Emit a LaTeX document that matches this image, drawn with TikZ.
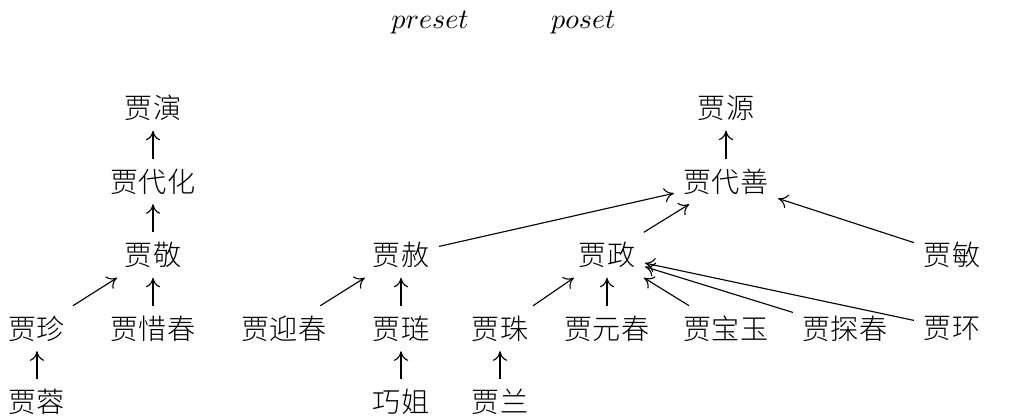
\documentclass[tikz,border=0pt]{standalone}
\usepackage{fontspec}
\newfontfamily\cjk{Noto Sans CJK SC Light}
\usetikzlibrary{arrows.meta}
\tikzset{kin/.style={font=\cjk},
         link/.style={-{To[length=1.2mm,width=1.8mm]},line width=.4pt}}

\begin{document}
\begin{tikzpicture}
  \useasboundingbox (0,0) rectangle (12.9125,5.2125);
  \node[anchor=base] (preset) at (5.375,4.859) {$preset$};
  \node[anchor=base] (poset) at (7.29,4.859) {$poset$};
  % 宁国府
  \node[kin] (yan) at (1.9125,3.8625) {贾演};
  \node[kin] (daihua) at (1.9125,2.94375) {贾代化};
  \node[kin] (jing) at (1.9125,2.025) {贾敬};
  \node[kin] (zhen) at (0.4625,1.10625) {贾珍};
  \node[kin] (xichun) at (1.9125,1.10625) {贾惜春};
  \node[kin] (rong) at (0.4625,0.19375) {贾蓉};
  % 荣国府
  \node[kin] (yuan) at (9.075,3.8625) {贾源};
  \node[kin] (daishan) at (9.075,2.94375) {贾代善};
  \node[kin] (she) at (5.0125,2.025) {贾赦};
  \node[kin] (zheng) at (7.5875,2.025) {贾政};
  \node[kin] (min) at (11.9,2.025) {贾敏};
  \node[kin] (yingchun) at (3.55,1.10625) {贾迎春};
  \node[kin] (lian) at (5.0125,1.10625) {贾琏};
  \node[kin] (zhu) at (6.25,1.10625) {贾珠};
  \node[kin] (yuanchun) at (7.5875,1.10625) {贾元春};
  \node[kin] (baoyu) at (9.075,1.10625) {贾宝玉};
  \node[kin] (tanchun) at (10.5625,1.10625) {贾探春};
  \node[kin] (huan) at (11.9,1.10625) {贾环};
  \node[kin] (qiaojie) at (5.0125,0.19375) {巧姐};
  \node[kin] (lan) at (6.25,0.19375) {贾兰};

  \draw[link] (daihua)--(yan);
  \draw[link] (jing)--(daihua);
  \draw[link] (zhen)--(jing);
  \draw[link] (xichun)--(jing);
  \draw[link] (rong)--(zhen);

  \draw[link] (daishan)--(yuan);
  \draw[link] (she)--(daishan);
  \draw[link] (zheng)--(daishan);
  \draw[link] (min)--(daishan);
  \draw[link] (yingchun)--(she);
  \draw[link] (lian)--(she);
  \draw[link] (qiaojie)--(lian);
  \draw[link] (zhu)--(zheng);
  \draw[link] (yuanchun)--(zheng);
  \draw[link] (baoyu)--(zheng);
  \draw[link] (tanchun)--(zheng);
  \draw[link] (huan)--(zheng);
  \draw[link] (lan)--(zhu);
\end{tikzpicture}
\end{document}
